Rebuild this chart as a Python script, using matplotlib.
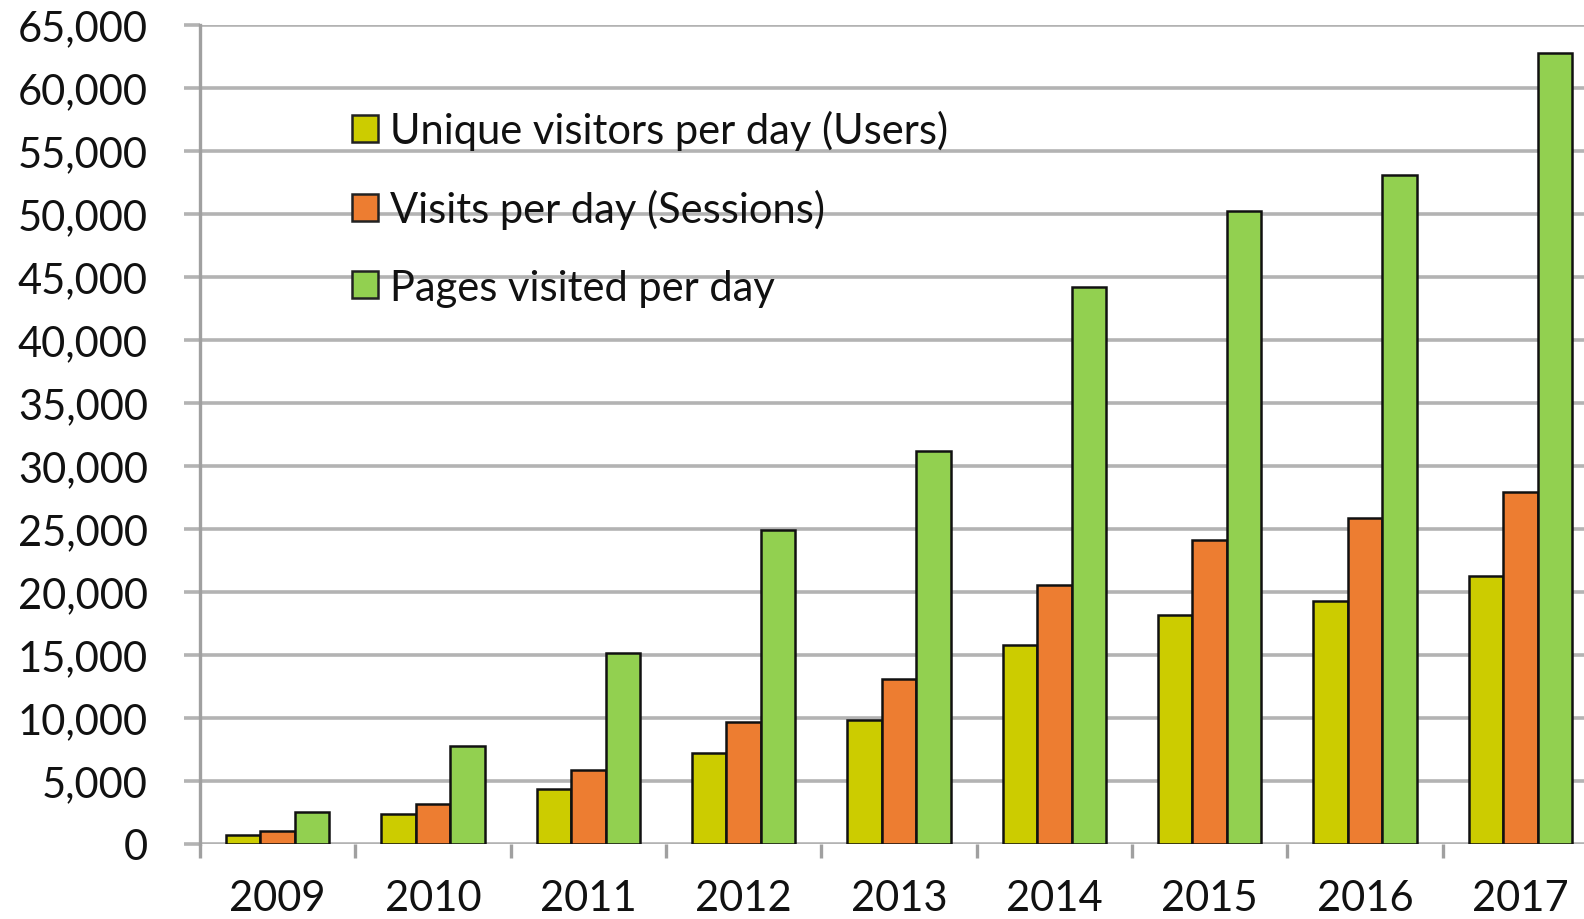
import numpy as np
import matplotlib
matplotlib.use("Agg")
import matplotlib.pyplot as plt
from matplotlib.patches import Patch
from matplotlib.ticker import FuncFormatter, FixedLocator

years = ["2009", "2010", "2011", "2012", "2013", "2014", "2015", "2016", "2017"]
users = [700, 2400, 4400, 7200, 9850, 15800, 18200, 19300, 21300]
sessions = [1000, 3200, 5850, 9700, 13100, 20550, 24150, 25850, 27900]
pages = [2550, 7800, 15150, 24900, 31200, 44200, 50250, 53100, 62750]
series_labels = ["Unique visitors per day (Users)", "Visits per day (Sessions)", "Pages visited per day"]
colors = ["#cccc00", "#ed7d31", "#92d050"]

plt.rcParams['font.family'] = ['Lato', 'DejaVu Sans']

W, H = 1584, 920
fig = plt.figure(figsize=(W / 100, H / 100), dpi=100)
ax = fig.add_axes([200 / W, (H - 845) / H, 1398 / W, (845 - 26) / H])

n = len(years)
centers = np.arange(n) + 0.5
bw = 0.222
for k, (vals, c) in enumerate(zip([users, sessions, pages], colors)):
    ax.bar(centers + (k - 1) * bw, vals, width=bw, color=c, edgecolor="#111111",
           linewidth=1.8, zorder=3, label=series_labels[k])

ax.set_xlim(0, n)
ax.set_ylim(0, 65000)
ax.yaxis.set_major_locator(FixedLocator(np.arange(0, 65001, 5000)))
ax.yaxis.set_major_formatter(FuncFormatter(lambda v, p: f"{int(v):,}"))
ax.grid(axis="y", color="#b3b3b3", linewidth=2.6, zorder=0)
ax.set_axisbelow(True)

ax.tick_params(axis="y", length=11.5, width=2.6, color="#b3b3b3", pad=26,
               labelsize=30, labelcolor="#111111")
ax.xaxis.set_major_locator(FixedLocator(np.arange(0, n + 1)))
ax.xaxis.set_minor_locator(FixedLocator(centers))
ax.xaxis.set_major_formatter(FuncFormatter(lambda v, p: ""))
ax.set_xticks(centers, years, minor=True)
ax.tick_params(axis="x", which="major", length=10, width=2.4, color="#a0a0a0")
ax.tick_params(axis="x", which="minor", length=0, pad=25, labelsize=30, labelcolor="#111111")

for s in ["top", "right", "bottom"]:
    ax.spines[s].set_visible(False)
ax.spines["left"].set_color("#a0a0a0")
ax.spines["left"].set_linewidth(2.4)

handles = [Patch(facecolor=c, edgecolor="#222222", linewidth=1.8) for c in colors]
leg = ax.legend(handles, series_labels, loc="upper left", bbox_to_anchor=(352 / W, 1 - 111 / H),
                bbox_transform=fig.transFigure, frameon=False, fontsize=30,
                handlelength=0.62, handleheight=0.62, handletextpad=0.3,
                labelspacing=0.94, borderpad=0, borderaxespad=0)
for t in leg.get_texts():
    t.set_color("#111111")

fig.savefig("out.png", dpi=100, facecolor="white")
